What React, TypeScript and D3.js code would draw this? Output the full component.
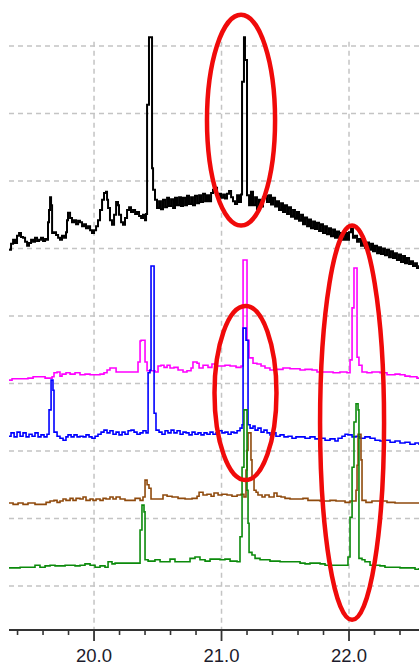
import React from "react";
import * as d3 from "d3";

// 2θ (deg) vs offset intensity (a.u., grid step = 10)
const blackSeries: [number, number][] = [
  [19.333,49.8],[19.349,50.7],[19.365,51.3],[19.380,50.8],[19.396,51.9],[19.412,52.3],[19.427,51.7],[19.443,51.6],
  [19.459,51.0],[19.475,50.4],[19.490,50.8],[19.506,51.3],[19.522,51.0],[19.537,51.6],[19.553,51.1],[19.569,51.3],
  [19.584,51.6],[19.600,51.1],[19.616,51.4],[19.631,51.3],[19.639,53.9],[19.647,55.7],[19.655,57.6],[19.663,56.4],
  [19.671,52.3],[19.686,52.4],[19.702,52.0],[19.718,51.6],[19.733,51.3],[19.749,51.9],[19.765,51.6],[19.780,52.4],
  [19.788,54.2],[19.796,55.3],[19.812,54.5],[19.827,53.9],[19.843,54.2],[19.859,53.6],[19.875,54.1],[19.890,53.9],
  [19.906,53.3],[19.922,53.6],[19.937,53.0],[19.953,53.3],[19.969,52.7],[19.984,52.3],[20.000,52.7],[20.016,53.3],
  [20.031,54.2],[20.047,55.7],[20.063,57.2],[20.078,58.2],[20.094,58.4],[20.102,57.2],[20.110,56.0],[20.125,54.2],
  [20.141,53.5],[20.157,55.0],[20.173,56.9],[20.188,56.4],[20.196,55.0],[20.212,53.9],[20.227,53.5],[20.243,54.5],
  [20.259,55.7],[20.275,56.1],[20.290,55.4],[20.306,55.7],[20.322,55.1],[20.337,55.4],[20.353,54.8],[20.369,54.5],
  [20.384,55.0],[20.400,54.2],[20.408,55.1],[20.416,71.3],[20.431,81.3],[20.455,61.9],[20.463,58.7],[20.478,57.2],
  [20.494,56.0],[20.510,57.0],[20.525,55.8],[20.541,57.2],[20.557,56.1],[20.573,57.5],[20.588,56.3],[20.604,57.3],
  [20.620,56.0],[20.635,57.5],[20.651,56.4],[20.667,57.6],[20.682,56.3],[20.698,57.5],[20.714,56.4],[20.729,57.8],
  [20.745,56.6],[20.761,57.6],[20.776,56.4],[20.792,57.8],[20.808,56.7],[20.824,57.9],[20.839,56.9],[20.855,58.1],
  [20.871,57.0],[20.886,57.9],[20.902,57.0],[20.918,58.2],[20.933,58.7],[20.949,59.0],[20.965,57.8],[20.980,58.1],
  [20.996,57.5],[21.012,58.0],[21.027,57.4],[21.043,58.1],[21.059,58.5],[21.075,57.6],[21.090,57.0],[21.106,56.6],
  [21.122,57.9],[21.137,56.9],[21.153,58.0],[21.161,74.7],[21.176,81.3],[21.184,77.9],[21.200,57.9],[21.216,56.4],
  [21.231,58.4],[21.247,56.4],[21.263,57.6],[21.278,55.8],[21.294,57.2],[21.310,56.2],[21.325,57.6],[21.341,57.8],
  [21.357,56.9],[21.373,57.9],[21.388,56.5],[21.404,57.5],[21.420,56.2],[21.435,57.0],[21.451,55.7],[21.467,56.7],
  [21.482,55.4],[21.498,56.4],[21.514,55.1],[21.529,56.1],[21.545,54.7],[21.561,55.7],[21.576,54.4],[21.592,55.4],
  [21.608,54.1],[21.624,55.0],[21.639,53.6],[21.655,54.6],[21.671,53.3],[21.686,54.3],[21.702,53.0],[21.718,54.0],
  [21.733,52.9],[21.749,53.8],[21.765,52.6],[21.780,53.6],[21.796,52.3],[21.812,53.3],[21.827,52.1],[21.843,53.0],
  [21.859,51.8],[21.875,52.8],[21.890,51.6],[21.906,52.5],[21.922,51.4],[21.937,52.3],[21.953,51.3],[21.969,52.3],
  [21.984,51.3],[22.000,52.4],[22.016,52.9],[22.031,51.6],[22.047,51.9],[22.063,51.0],[22.078,51.4],[22.094,50.4],
  [22.110,51.3],[22.125,50.1],[22.141,50.9],[22.157,49.8],[22.173,50.7],[22.188,49.6],[22.204,50.4],[22.220,49.3],
  [22.235,50.2],[22.251,49.2],[22.267,50.0],[22.282,49.0],[22.298,49.8],[22.314,48.7],[22.329,49.6],[22.345,48.6],
  [22.361,49.3],[22.376,48.3],[22.392,49.1],[22.408,48.0],[22.424,48.9],[22.439,47.8],[22.455,48.6],[22.471,47.7],
  [22.486,48.1],[22.502,47.4],[22.518,47.8],[22.533,47.1],[22.549,47.5],
];

const magentaSeries: [number, number][] = [
  [19.333,30.5],[19.357,30.7],[19.420,30.7],[19.482,30.8],[19.522,31.0],[19.616,30.8],[19.671,31.0],[19.686,31.6],
  [19.710,31.7],[19.733,31.1],[19.749,31.4],[19.780,31.6],[19.812,31.4],[19.851,31.6],[19.890,31.3],[19.929,31.4],
  [19.969,31.3],[20.047,31.4],[20.078,31.6],[20.102,32.0],[20.125,32.3],[20.149,32.3],[20.173,31.7],[20.322,31.7],
  [20.345,33.2],[20.361,36.3],[20.369,36.4],[20.400,33.2],[20.416,31.9],[20.478,31.7],[20.502,32.6],[20.525,32.7],
  [20.549,32.4],[20.573,32.7],[20.596,32.3],[20.627,32.4],[20.659,32.0],[20.698,31.7],[20.729,31.9],[20.761,32.3],
  [20.776,33.2],[20.808,33.0],[20.824,32.3],[20.855,32.7],[20.894,32.4],[20.925,32.9],[20.957,32.6],[21.027,32.7],
  [21.067,32.6],[21.114,32.4],[21.153,32.6],[21.169,48.3],[21.200,36.4],[21.216,33.8],[21.247,33.0],[21.278,32.9],
  [21.310,32.6],[21.341,32.3],[21.380,32.0],[21.420,32.1],[21.482,32.3],[21.537,32.2],[21.616,32.0],[21.655,32.1],
  [21.710,32.0],[21.749,31.7],[21.812,31.7],[21.875,31.6],[21.929,31.7],[21.984,31.6],[22.008,33.5],[22.024,41.2],
  [22.039,47.1],[22.063,33.9],[22.078,32.7],[22.102,31.7],[22.141,31.6],[22.180,31.7],[22.243,31.6],[22.298,31.3],
  [22.361,31.4],[22.400,31.3],[22.439,31.1],[22.478,31.0],[22.533,30.8],[22.549,30.8],
];

const blueSeries: [number, number][] = [
  [19.333,22.2],[19.349,22.7],[19.373,22.1],[19.396,22.8],[19.420,22.2],[19.443,22.7],[19.467,22.1],[19.490,22.5],
  [19.514,22.2],[19.537,22.7],[19.561,22.1],[19.584,22.4],[19.608,22.1],[19.631,22.5],[19.647,26.1],[19.663,30.5],
  [19.678,29.0],[19.686,22.8],[19.710,22.2],[19.733,21.9],[19.757,21.6],[19.780,22.1],[19.796,22.4],[19.820,22.1],
  [19.843,22.4],[19.867,22.1],[19.890,22.2],[19.914,22.1],[19.937,22.4],[19.961,22.1],[19.984,21.9],[20.008,22.2],
  [20.031,22.5],[20.055,22.8],[20.078,23.1],[20.102,22.7],[20.125,23.0],[20.149,22.5],[20.173,22.8],[20.196,22.4],
  [20.220,22.8],[20.243,22.5],[20.267,23.0],[20.290,23.1],[20.314,22.8],[20.337,22.5],[20.361,22.7],[20.384,23.0],
  [20.408,22.7],[20.424,31.6],[20.439,32.0],[20.447,47.4],[20.471,25.6],[20.486,23.1],[20.510,22.8],[20.533,22.5],
  [20.557,23.0],[20.580,22.7],[20.604,23.1],[20.627,22.7],[20.651,23.0],[20.675,22.5],[20.698,22.8],[20.722,22.7],
  [20.745,22.4],[20.769,22.8],[20.792,22.5],[20.816,22.7],[20.839,22.4],[20.863,22.7],[20.886,22.5],[20.910,22.8],
  [20.933,22.5],[20.957,22.7],[20.980,23.0],[21.004,22.7],[21.027,22.8],[21.051,22.5],[21.075,22.8],[21.098,22.7],
  [21.122,23.0],[21.145,23.4],[21.161,23.9],[21.169,38.2],[21.192,36.4],[21.208,23.9],[21.224,23.4],[21.247,23.7],
  [21.263,23.1],[21.286,23.4],[21.310,22.8],[21.333,23.1],[21.357,22.7],[21.380,22.4],[21.404,22.7],[21.427,22.2],
  [21.459,22.4],[21.490,22.1],[21.522,22.2],[21.553,21.9],[21.584,22.1],[21.616,22.1],[21.655,21.9],[21.694,22.1],
  [21.733,21.8],[21.773,21.9],[21.812,21.6],[21.851,21.8],[21.890,21.5],[21.914,21.9],[21.945,22.2],[21.969,22.5],
  [21.992,22.4],[22.024,22.1],[22.055,22.2],[22.086,21.9],[22.125,22.1],[22.165,21.9],[22.204,21.6],[22.243,21.5],
  [22.282,21.6],[22.322,21.3],[22.361,21.5],[22.400,21.2],[22.439,21.3],[22.478,21.0],[22.518,21.2],[22.549,20.9],
];

const brownSeries: [number, number][] = [
  [19.333,12.3],[19.365,12.1],[19.404,12.3],[19.443,12.1],[19.482,12.3],[19.537,12.1],[19.600,12.1],[19.624,12.4],
  [19.655,12.6],[19.686,12.7],[19.710,12.4],[19.733,12.6],[19.757,12.9],[19.780,12.7],[19.812,13.0],[19.835,12.7],
  [19.859,13.0],[19.890,12.9],[19.914,13.2],[19.937,12.7],[19.969,12.9],[19.992,12.7],[20.016,12.9],[20.047,12.7],
  [20.071,13.0],[20.094,12.9],[20.125,13.2],[20.149,12.9],[20.173,13.2],[20.204,12.9],[20.243,12.7],[20.282,12.7],
  [20.322,13.0],[20.361,12.7],[20.384,13.2],[20.400,15.7],[20.416,15.0],[20.431,14.5],[20.447,12.9],[20.518,12.9],
  [20.541,13.5],[20.573,13.3],[20.612,13.2],[20.659,13.0],[20.714,12.9],[20.769,13.0],[20.808,13.3],[20.824,13.9],
  [20.855,13.5],[20.886,13.6],[20.918,13.3],[20.941,13.8],[20.973,13.5],[21.004,13.6],[21.043,13.5],[21.082,13.3],
  [21.122,13.5],[21.153,13.6],[21.176,13.2],[21.192,17.2],[21.200,20.1],[21.208,22.7],[21.231,18.7],[21.239,16.1],
  [21.255,14.2],[21.271,13.9],[21.286,13.5],[21.318,13.2],[21.341,13.5],[21.373,13.2],[21.412,13.8],[21.435,13.3],
  [21.467,13.2],[21.498,13.0],[21.537,12.9],[21.592,12.9],[21.639,13.0],[21.678,12.7],[21.733,12.7],[21.773,12.6],
  [21.851,12.7],[21.898,12.6],[21.969,12.4],[22.008,12.6],[22.039,12.6],[22.055,14.2],[22.063,17.9],[22.071,22.5],
  [22.094,18.7],[22.102,12.7],[22.133,12.4],[22.180,12.6],[22.243,12.6],[22.298,12.4],[22.361,12.3],[22.549,12.3],
];

const greenSeries: [number, number][] = [
  [19.333,2.7],[19.380,2.7],[19.420,2.8],[19.498,2.8],[19.537,3.1],[19.576,2.8],[19.616,3.0],[19.655,3.1],
  [19.694,3.0],[19.733,3.0],[19.773,3.1],[19.812,3.1],[19.851,3.0],[19.890,3.1],[19.929,3.3],[19.969,3.1],
  [20.008,2.8],[20.047,3.0],[20.086,2.8],[20.110,3.6],[20.141,3.3],[20.165,3.4],[20.353,3.4],[20.361,8.3],
  [20.376,12.0],[20.392,11.0],[20.400,3.9],[20.424,3.7],[20.478,3.9],[20.518,3.6],[20.557,3.6],[20.596,4.0],
  [20.635,3.6],[20.682,3.6],[20.753,4.1],[20.792,4.3],[20.831,3.9],[20.871,3.7],[20.910,4.0],[20.988,3.9],
  [21.027,4.0],[21.067,3.7],[21.122,3.6],[21.145,7.3],[21.161,17.6],[21.176,26.1],[21.200,14.2],[21.208,9.3],
  [21.216,5.0],[21.239,4.6],[21.263,4.1],[21.302,3.9],[21.341,3.9],[21.380,3.7],[21.459,3.6],[21.537,3.6],
  [21.616,3.4],[21.655,3.3],[21.694,3.4],[21.773,3.3],[21.812,3.1],[21.969,3.1],[21.992,4.3],[22.008,10.2],
  [22.024,17.6],[22.039,24.3],[22.055,27.0],[22.071,26.1],[22.078,4.1],[22.102,3.9],[22.125,3.6],[22.165,3.1],
  [22.243,3.0],[22.282,2.8],[22.400,2.7],[22.518,2.5],[22.549,2.7],
];

const seriesColors = ["#000000", "#ff00ff", "#0000ff", "#8f4a0c", "#0b8a0b"];
const seriesList = [blackSeries, magentaSeries, blueSeries, brownSeries, greenSeries];

const majorTicks = [20, 21, 22];
const tickLabels = ["20.0", "21.0", "22.0"];
const minorTicks = [19.4, 19.6, 19.8, 20.2, 20.4, 20.6, 20.8, 21.2, 21.4, 21.6, 21.8, 22.2, 22.4];
const gridValues = [0, 10, 20, 30, 40, 50, 60, 70, 80];

// highlighted regions (data units): centre 2θ, centre intensity, half-width 2θ, half-height intensity
const highlightCx = [21.153, 21.188, 22.024];
const highlightCy = [69.0, 28.6, 24.2];
const highlightRx = [0.267, 0.243, 0.251];
const highlightRy = [15.6, 12.9, 29.2];

const W = 419;
const H = 666;

export default function App() {
  const x = d3.scaleLinear().domain([19.333, 22.549]).range([9, 419]);
  const y = d3.scaleLinear().domain([-6.5, 86.8]).range([630, 0]);
  const line = d3
    .line<[number, number]>()
    .x((d) => x(d[0]))
    .y((d) => y(d[1]))
    .curve(d3.curveStepAfter);
  const [x0, x1] = x.range();
  const axisY = y(-6.5);
  const gridTop = y(80.6);

  return (
    <svg
      width={W}
      height={H}
      style={{ position: "absolute", left: 0, top: 0, background: "#fff" }}
    >
      <defs>
        <clipPath id="plot">
          <rect x={x0} y={0} width={x1 - x0} height={axisY} />
        </clipPath>
      </defs>
      <rect x={0} y={0} width={W} height={H} fill="#fff" />
      {gridValues.map((v) => (
        <line
          key={"h" + v}
          x1={x0}
          x2={x1}
          y1={y(v)}
          y2={y(v)}
          stroke="#c4c4c4"
          strokeWidth={1.5}
          strokeDasharray="5,4"
        />
      ))}
      {majorTicks.map((t) => (
        <line
          key={"v" + t}
          x1={x(t)}
          x2={x(t)}
          y1={gridTop}
          y2={axisY}
          stroke="#c4c4c4"
          strokeWidth={1.5}
          strokeDasharray="5,4"
        />
      ))}
      <g clipPath="url(#plot)">
        {seriesList.map((s, i) => (
          <path
            key={i}
            d={line(s) || ""}
            fill="none"
            stroke={seriesColors[i]}
            strokeWidth={i === 0 ? 2 : 1.6}
            strokeLinejoin="miter"
          />
        ))}
      </g>
      {highlightCx.map((cx, i) => (
        <ellipse
          key={"e" + i}
          cx={x(cx)}
          cy={y(highlightCy[i])}
          rx={x(cx + highlightRx[i]) - x(cx)}
          ry={y(highlightCy[i] - highlightRy[i]) - y(highlightCy[i])}
          fill="none"
          stroke="#f00a0a"
          strokeWidth={4.5}
        />
      ))}
      <line x1={x0} x2={x1} y1={axisY} y2={axisY} stroke="#333" strokeWidth={2} />
      {minorTicks.map((t) => (
        <line
          key={"m" + t}
          x1={x(t)}
          x2={x(t)}
          y1={axisY}
          y2={axisY + 5}
          stroke="#333"
          strokeWidth={1.6}
        />
      ))}
      {majorTicks.map((t, i) => (
        <g key={"M" + t}>
          <line x1={x(t)} x2={x(t)} y1={axisY} y2={axisY + 11} stroke="#333" strokeWidth={1.8} />
          <text
            x={x(t)}
            y={axisY + 32}
            textAnchor="middle"
            fontFamily="Liberation Sans, Arial, sans-serif"
            fontSize={18.5}
            fill="#1c1c2c"
          >
            {tickLabels[i]}
          </text>
        </g>
      ))}
    </svg>
  );
}
